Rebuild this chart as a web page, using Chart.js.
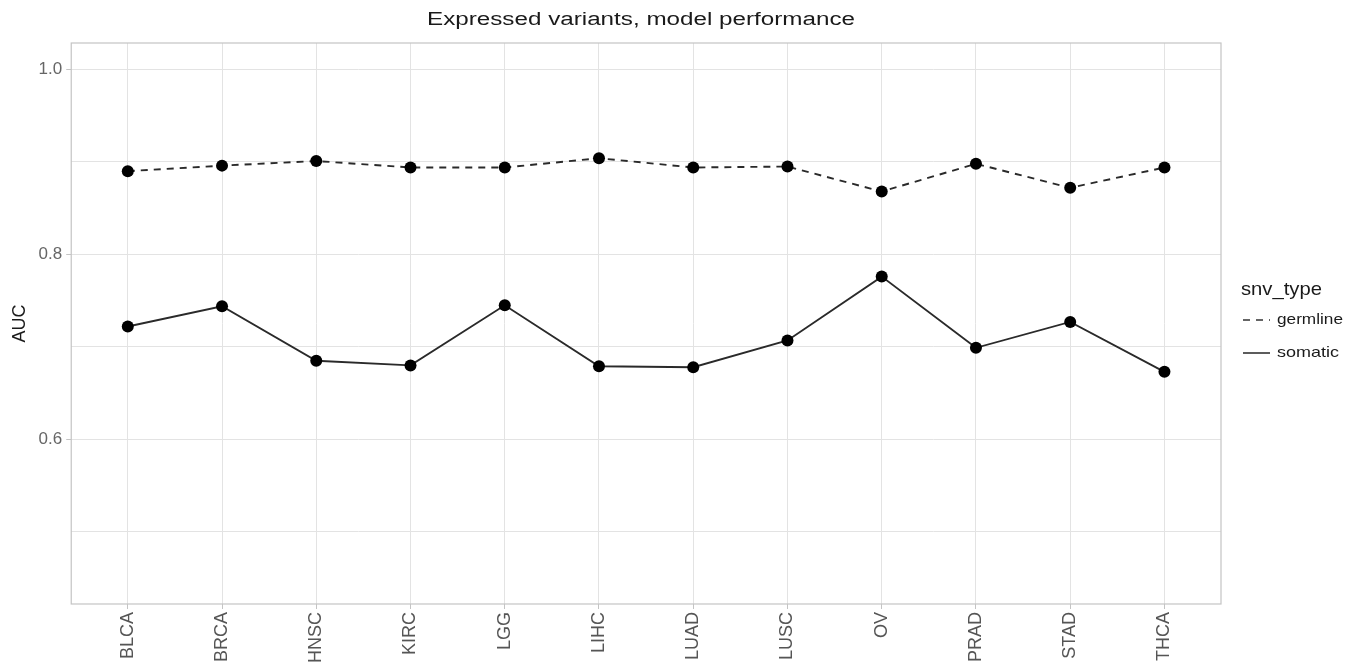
<!DOCTYPE html>
<html>
<head>
<meta charset="utf-8">
<script src="https://cdn.jsdelivr.net/npm/chart.js@4/dist/chart.umd.min.js"></script>
<style>
html,body{margin:0;padding:0;background:#fff;}
#wrap{width:1361px;height:672px;position:relative;}
</style>
</head>
<body>
<div id="wrap"><canvas id="c" width="1361" height="672"></canvas></div>
<script>
const categories = ["BLCA","BRCA","HNSC","KIRC","LGG","LIHC","LUAD","LUSC","OV","PRAD","STAD","THCA"];
const germline = [0.890,0.896,0.901,0.894,0.894,0.904,0.894,0.895,0.868,0.898,0.872,0.894];
const somatic  = [0.722,0.744,0.685,0.680,0.745,0.679,0.678,0.707,0.776,0.699,0.727,0.673];
const yTicks = [0.5,0.6,0.7,0.8,0.9,1.0];
const yLabeled = [0.6,0.8,1.0];
const titleText = "Expressed variants, model performance";
const legendTitle = "snv_type";
const legendLabels = ["germline","somatic"];

const FONT = "'Liberation Sans', Arial, sans-serif";
const isLabeled = v => yLabeled.some(t => Math.abs(t - v) < 1e-6);

// draw text stretched horizontally to a target width
function wideText(ctx, text, x, y, font, targetW, align) {
  ctx.save();
  ctx.font = font;
  const w = ctx.measureText(text).width;
  const s = targetW / w;
  ctx.textBaseline = 'middle';
  ctx.textAlign = 'left';
  const x0 = align === 'center' ? x - targetW / 2 : x;
  ctx.translate(x0, y);
  ctx.scale(s, 1);
  ctx.fillText(text, 0, 0);
  ctx.restore();
}

const decor = {
  id: 'decor',
  beforeDatasetsDraw(chart) {
    const {ctx, chartArea: a} = chart;
    ctx.save();
    ctx.strokeStyle = '#c4c4c4';
    ctx.lineWidth = 1.2;
    ctx.strokeRect(a.left, a.top, a.right - a.left, a.bottom - a.top);
    ctx.restore();
  },
  afterDraw(chart) {
    const {ctx} = chart;
    ctx.save();
    ctx.fillStyle = '#1a1a1a';
    wideText(ctx, titleText, 641, 20, "18px " + FONT, 428, 'center');
    // legend
    wideText(ctx, legendTitle, 1241, 290, "19px " + FONT, 81, 'left');
    const rows = [320, 353];
    const dashes = [[7,6],[]];
    const widths = [66, 62];
    rows.forEach((y, i) => {
      ctx.beginPath();
      ctx.strokeStyle = '#333';
      ctx.lineWidth = 1.6;
      ctx.setLineDash(dashes[i]);
      ctx.moveTo(1243, y);
      ctx.lineTo(1270, y);
      ctx.stroke();
      ctx.setLineDash([]);
      ctx.fillStyle = '#1a1a1a';
      wideText(ctx, legendLabels[i], 1277, y, "15px " + FONT, widths[i], 'left');
    });
    ctx.restore();
  }
};

new Chart(document.getElementById('c'), {
  type: 'line',
  data: {
    datasets: [
      {
        label: legendLabels[0],
        data: germline.map((v, i) => ({x: i, y: v})),
        borderColor: '#2a2a2a',
        borderWidth: 1.9,
        borderDash: [7, 6],
        pointRadius: 6,
        pointBackgroundColor: '#000',
        pointBorderColor: '#000',
        pointBorderWidth: 0,
        tension: 0
      },
      {
        label: legendLabels[1],
        data: somatic.map((v, i) => ({x: i, y: v})),
        borderColor: '#2a2a2a',
        borderWidth: 1.9,
        pointRadius: 6,
        pointBackgroundColor: '#000',
        pointBorderColor: '#000',
        pointBorderWidth: 0,
        tension: 0
      }
    ]
  },
  options: {
    responsive: false,
    animation: false,
    events: [],
    layout: {padding: {top: 43, right: 140, left: 0, bottom: 6}},
    plugins: {legend: {display: false}, title: {display: false}, tooltip: {enabled: false}},
    scales: {
      x: {
        type: 'linear',
        min: -0.6,
        max: 11.6,
        afterBuildTicks: s => { s.ticks = categories.map((_, i) => ({value: i})); },
        grid: {color: '#e3e3e3', lineWidth: 1, tickLength: 5, tickColor: '#c4c4c4', drawTicks: true},
        border: {display: false},
        ticks: {
          autoSkip: false,
          minRotation: 90,
          maxRotation: 90,
          padding: 3,
          color: '#555',
          font: {family: FONT, size: 18},
          callback: v => categories[Math.round(v)] ?? ''
        }
      },
      y: {
        min: 0.422,
        max: 1.0286,
        afterBuildTicks: s => { s.ticks = yTicks.map(v => ({value: v})); },
        grid: {
          color: '#e3e3e3',
          lineWidth: 1,
          tickLength: 5,
          tickColor: c => (c.tick && isLabeled(c.tick.value)) ? '#c4c4c4' : 'rgba(0,0,0,0)'
        },
        border: {display: false},
        title: {display: true, text: 'AUC', color: '#1a1a1a', font: {family: FONT, size: 18}, padding: {top: 9, bottom: 4}},
        ticks: {
          padding: 4,
          color: '#666',
          font: {family: FONT, size: 17},
          callback: v => isLabeled(v) ? v.toFixed(1) : ''
        }
      }
    }
  },
  plugins: [decor]
});
</script>
</body>
</html>
